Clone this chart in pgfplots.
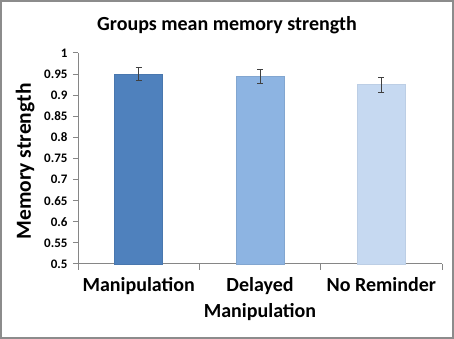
\documentclass[border=0pt]{standalone}
\usepackage{fontspec}
\setmainfont{Carlito}
\usepackage{pgfplots}
\pgfplotsset{compat=1.18}
\definecolor{barA}{HTML}{4F81BD}
\definecolor{barB}{HTML}{8DB4E2}
\definecolor{barC}{HTML}{C6D9F1}
\definecolor{frame}{HTML}{8C8C8C}
\definecolor{axisgray}{HTML}{868686}

\begin{document}
\begin{tikzpicture}
% outer frame of the picture
\draw[frame, line width=2pt] (-77pt,-74pt) rectangle (375pt,263pt);
\begin{axis}[
  at={(0,0)}, anchor=south west,
  scale only axis, width=364pt, height=211pt,
  xmin=0.5, xmax=3.5, ymin=0.5, ymax=1,
  axis lines=left,
  axis line style={axisgray, line width=1pt, -},
  tick style={axisgray, line width=1pt},
  tick align=outside,
  major tick length=5pt, minor tick length=6pt,
  /pgf/number format/assume math mode=true,
  xtick={1,2,3},
  xticklabels={Manipulation, Delayed\\Manipulation, No Reminder},
  x tick style={draw=none},
  minor xtick={0.5,1.5,2.5,3.5},
  minor x tick style={draw=axisgray, line width=1pt},
  ytick={0.5,0.55,0.6,0.65,0.7,0.75,0.8,0.85,0.9,0.95,1},
  yticklabels={0.5,0.55,0.6,0.65,0.7,0.75,0.8,0.85,0.9,0.95,1},
  yticklabel style={font=\fontsize{13}{15}\selectfont\bfseries, xshift=-2pt},
  xticklabel style={font=\fontsize{20}{26}\selectfont\bfseries, align=center, yshift=-5pt},
  ylabel={Memory strength},
  ylabel style={font=\fontsize{21.5}{24}\selectfont\bfseries,
                at={(axis description cs:-0.145,0.486)}, anchor=center},
  clip=false,
]
\addplot[ybar, bar width=48pt, fill=barA, draw=barA!92!black,
  error bars/.cd, y dir=both, y explicit,
  error bar style={black!75, line width=0.8pt},
  error mark options={rotate=90, mark size=3pt, black!75, line width=0.8pt}]
  coordinates {(1,0.950) +- (0,0.015)};
\addplot[ybar, bar width=48pt, fill=barB, draw=barB!92!black,
  error bars/.cd, y dir=both, y explicit,
  error bar style={black!75, line width=0.8pt},
  error mark options={rotate=90, mark size=3pt, black!75, line width=0.8pt}]
  coordinates {(2,0.945) +- (0,0.016)};
\addplot[ybar, bar width=48pt, fill=barC, draw=barC!95!black,
  error bars/.cd, y dir=both, y explicit,
  error bar style={black!75, line width=0.8pt},
  error mark options={rotate=90, mark size=3pt, black!75, line width=0.8pt}]
  coordinates {(3,0.925) +- (0,0.018)};
\end{axis}
\node[anchor=base, font=\fontsize{20}{24}\selectfont\bfseries] at (149pt,233pt)
  {Groups mean memory strength};
\end{tikzpicture}
\end{document}
